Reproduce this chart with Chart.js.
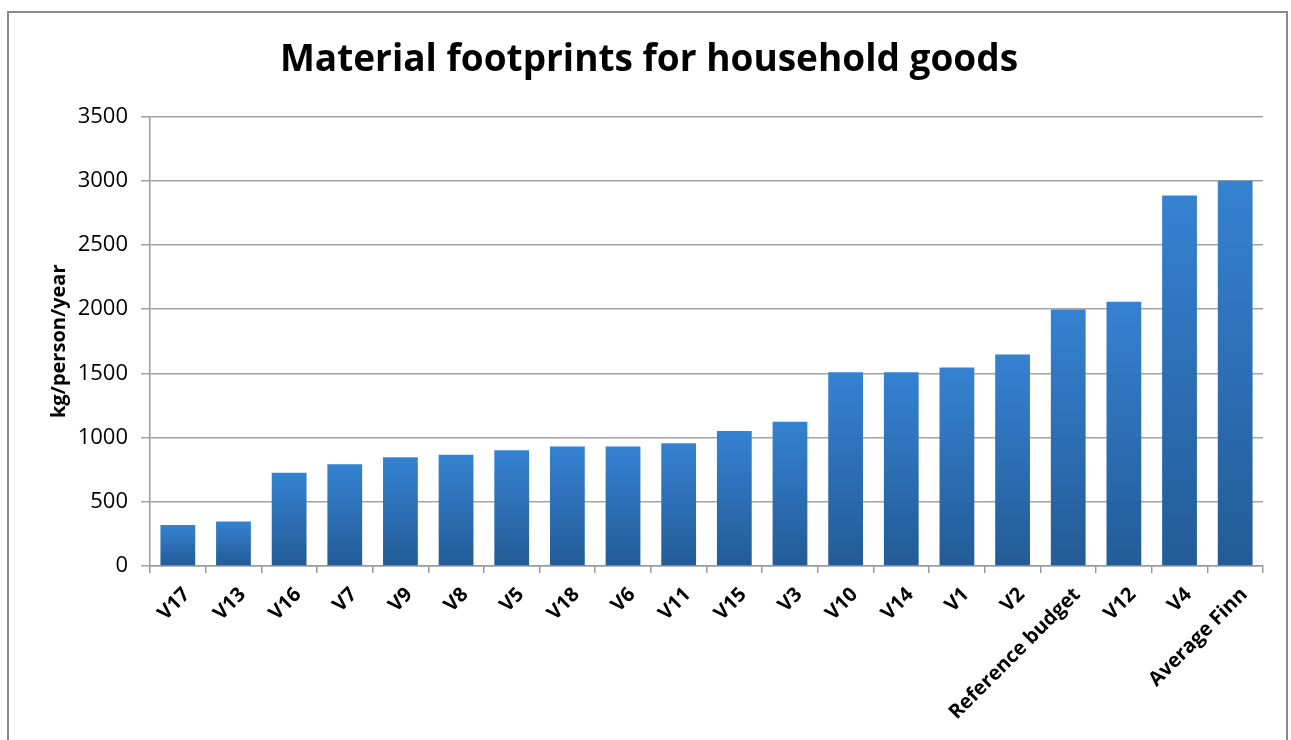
<!DOCTYPE html>
<html>
<head>
<meta charset="utf-8">
<title>Material footprints for household goods</title>
<script src="https://cdn.jsdelivr.net/npm/chart.js@4/dist/chart.umd.min.js"></script>
<style>
  body { margin: 0; background: #fff; overflow: hidden; }
  .frame {
    position: absolute; left: 7px; top: 11px; width: 1277px; height: 760px;
    border: 2px solid #8a8a8a; border-bottom: none;
  }
  #myChart { position: absolute; left: 0; top: 0; }
</style>
</head>
<body>
<div class="frame"></div>
<canvas id="myChart" width="1291" height="740"></canvas>
<script>
const categories = ["V17", "V13", "V16", "V7", "V9", "V8", "V5", "V18", "V6", "V11",
  "V15", "V3", "V10", "V14", "V1", "V2", "Reference budget", "V12", "V4", "Average Finn"];
const footprints = [319, 347, 726, 793, 847, 866, 902, 930, 930, 956,
  1051, 1124, 1509, 1509, 1546, 1647, 1998, 2058, 2885, 3000];
const yTicks = [0, 500, 1000, 1500, 2000, 2500, 3000, 3500];

document.addEventListener("DOMContentLoaded", function () {
  const ctx = document.getElementById("myChart").getContext("2d");

  // each bar gets its own top-to-bottom gradient, like the original
  function barFill(context) {
    const chart = context.chart;
    const y = chart.scales.y;
    if (!y || context.dataIndex === undefined) return "#2f6fb8";
    const top = y.getPixelForValue(context.raw);
    const bottom = y.getPixelForValue(0);
    if (!isFinite(top) || !isFinite(bottom) || top === bottom) return "#2f6fb8";
    const g = chart.ctx.createLinearGradient(0, top, 0, bottom);
    g.addColorStop(0, "#3582d1");
    g.addColorStop(1, "#235b97");
    return g;
  }

  const myChart = new Chart(ctx, {
    type: "bar",
    data: {
      labels: categories,
      datasets: [
        {
          label: "kg/person/year",
          data: footprints,
          backgroundColor: barFill,
          borderWidth: 0,
          categoryPercentage: 1,
          barPercentage: 0.625,
        },
      ],
    },
    options: {
      responsive: false,
      animation: false,
      devicePixelRatio: 1,
      // left padding nudges the title to the centre used by the original
      layout: { padding: { left: 35, right: 28, top: 0, bottom: 0 } },
      scales: {
        y: {
          min: 0,
          max: 3500,
          afterBuildTicks: function (axis) {
            axis.ticks = yTicks.map(function (v) { return { value: v }; });
          },
          afterFit: function (axis) { axis.width = 115; },
          border: { color: "#999999", width: 1.5 },
          grid: { color: "#a3a3a3", lineWidth: 1.5, tickLength: 9 },
          ticks: {
            color: "#000",
            padding: 13,
            font: { family: "'Open Sans'", size: 22 },
            callback: function (value) { return String(value); },
          },
          title: {
            display: true,
            text: "kg/person/year",
            color: "#000",
            padding: { top: 12, bottom: 0 },
            font: { family: "'Open Sans'", size: 20, weight: "bold" },
          },
        },
        x: {
          afterFit: function (axis) { axis.height = 174; },
          border: { color: "#999999", width: 1.5 },
          grid: {
            offset: true,
            drawOnChartArea: false,
            color: "#999999",
            lineWidth: 1.5,
            tickLength: 7,
          },
          ticks: {
            color: "#000",
            autoSkip: false,
            maxRotation: 45,
            minRotation: 45,
            padding: 10,
            labelOffset: 9,
            font: { family: "'Open Sans'", size: 20, weight: "bold" },
          },
        },
      },
      plugins: {
        legend: { display: false },
        tooltip: { enabled: false },
        title: {
          display: true,
          text: "Material footprints for household goods",
          color: "#000",
          padding: { top: 39, bottom: 35 },
          font: { family: "'Open Sans'", size: 37, weight: "bold", lineHeight: 1.15 },
        },
      },
    },
  });
});
</script>
</body>
</html>
